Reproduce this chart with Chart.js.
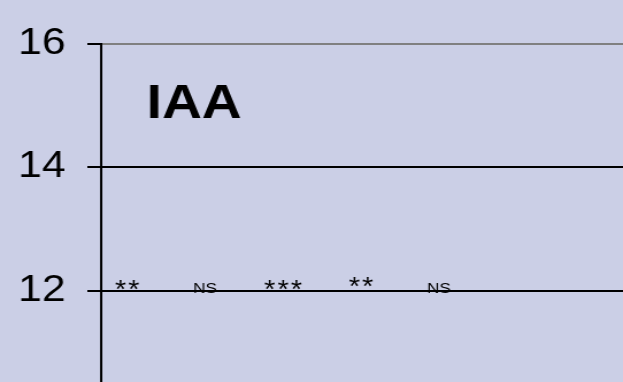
<!DOCTYPE html>
<html>
<head>
<meta charset="utf-8">
<script src="https://cdn.jsdelivr.net/npm/chart.js@4.4.1/dist/chart.umd.min.js"></script>
<style>
  html, body { margin: 0; padding: 0; overflow: hidden; background: #cbcfe6; }
  /* the original picture is a little stretched sideways, so the chart is too */
  #wrap { width: 542px; height: 455px; transform: scaleX(1.1494); transform-origin: 0 0; }
  #myChart { display: block; }
</style>
</head>
<body>
<div id="wrap"><canvas id="myChart" width="542" height="455"></canvas></div>
<script>
// significance marks above each group (bars themselves fall below the visible area)
const groups = [1, 2, 3, 4, 5];
const sigLabels = ['**', 'NS', '***', '**', 'NS'];
const sigY = [11.875, 11.958, 11.875, 11.923, 11.958];
const yTicks = [10, 12, 14, 16];
const panelTitle = 'IAA';

const bgColor = '#cbcfe6';
const fontFamily = '"Liberation Sans", Arial, sans-serif';

const sigPlugin = {
	id: 'sigLabels',
	afterDatasetsDraw(chart) {
		let ctx = chart.ctx;
		let meta = chart.getDatasetMeta(0);
		ctx.save();
		ctx.fillStyle = '#000';
		ctx.textAlign = 'center';
		ctx.textBaseline = 'alphabetic';
		meta.data.forEach((pt, i) => {
			let txt = sigLabels[i];
			if (txt === 'NS') {
				ctx.font = '15px ' + fontFamily;
				ctx.fillText(txt, pt.x, pt.y);
			} else {
				// stars are spread out a bit more than the font does it
				ctx.font = '25px ' + fontFamily;
				let n = txt.length, gap = 11.6;
				for (let k = 0; k < n; k++) {
					ctx.fillText(txt[k], pt.x + (k - (n - 1) / 2) * gap, pt.y);
				}
			}
		});
		// panel title
		let xs = chart.scales.x, ys = chart.scales.y;
		ctx.textAlign = 'left';
		ctx.font = 'bold 48px ' + fontFamily;
		ctx.fillText(panelTitle, xs.getPixelForValue(1.25), ys.getPixelForValue(14.806));
		ctx.restore();
	}
};

const bgPlugin = {
	id: 'bg',
	beforeDraw(chart) {
		let ctx = chart.ctx;
		ctx.save();
		ctx.fillStyle = bgColor;
		ctx.fillRect(0, 0, chart.width, chart.height);
		ctx.restore();
	}
};

var ctx = document.getElementById('myChart');
var myChart = new Chart(ctx, {
	type: 'scatter',
	data: {
		datasets: [{
			label: 'significance',
			data: groups.map((g, i) => ({x: g, y: sigY[i]})),
			pointRadius: 0,
			pointHoverRadius: 0
		}]
	},
	options: {
		responsive: false,
		animation: false,
		devicePixelRatio: 1,
		layout: { padding: { top: 44, bottom: 24, left: 0, right: 0 } },
		plugins: { legend: { display: false }, tooltip: { enabled: false } },
		scales: {
			x: {
				type: 'linear',
				display: false,
				min: 0.667,
				max: 7.36
			},
			y: {
				min: 10,
				max: 16,
				afterBuildTicks: (scale) => { scale.ticks = yTicks.map(v => ({value: v})); },
				afterFit: (scale) => { scale.width = 88; },
				border: { display: true, color: '#000', width: 2 },
				grid: {
					color: (c) => c.tick && c.tick.value === 16 ? '#808080' : '#000',
					lineWidth: 2,
					tickColor: '#000',
					tickLength: 12,
					drawTicks: true
				},
				ticks: {
					color: '#000',
					padding: 19,
					font: { family: fontFamily, size: 37 }
				}
			}
		}
	},
	plugins: [bgPlugin, sigPlugin]
});
</script>
</body>
</html>
